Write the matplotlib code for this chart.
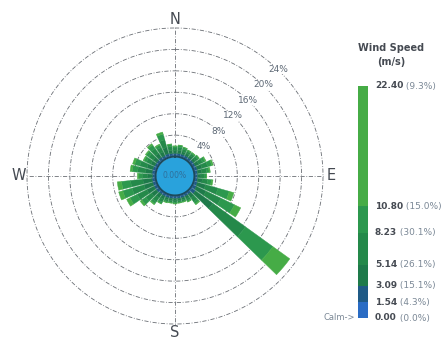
import numpy as np
import matplotlib
matplotlib.use("Agg")
import matplotlib.pyplot as plt

# Direction bins (degrees, clockwise from north)
directions = np.arange(0, 360, 10)

# Frequency (%) per direction for each wind-speed class
c1 = [0.2, 0.2, 0.2, 0.2, 0.2, 0.2, 0.2, 0.2, 0.2, 0.2, 0.2, 0.2,
      0.2, 0.3, 0.2, 0.2, 0.2, 0.2, 0.2, 0.2, 0.2, 0.2, 0.2, 0.2,
      0.2, 0.2, 0.2, 0.2, 0.2, 0.2, 0.2, 0.2, 0.2, 0.2, 0.2, 0.2]
c2 = [0.4, 0.4, 0.4, 0.4, 0.4, 0.4, 0.4, 0.5, 0.4, 0.4, 0.4, 0.5,
      0.6, 0.8, 0.4, 0.4, 0.4, 0.4, 0.4, 0.4, 0.4, 0.4, 0.4, 0.5,
      0.5, 0.5, 0.5, 0.4, 0.5, 0.5, 0.4, 0.4, 0.5, 0.4, 0.5, 0.4]
c3 = [0.5, 0.6, 0.5, 0.5, 0.5, 0.5, 0.7, 0.9, 0.8, 0.6, 0.9, 1.6,
      2.0, 4.0, 0.8, 0.5, 0.4, 0.4, 0.4, 0.4, 0.4, 0.6, 0.8, 1.1,
      1.5, 1.7, 1.7, 0.9, 1.2, 1.1, 0.8, 0.8, 0.9, 0.8, 1.2, 0.6]
c4 = [0.5, 0.6, 0.5, 0.4, 0.4, 0.5, 0.8, 1.1, 0.9, 0.6, 1.0, 2.4,
      3.1, 7.5, 0.9, 0.4, 0.3, 0.3, 0.3, 0.3, 0.3, 0.6, 0.9, 1.3,
      2.0, 2.3, 2.3, 1.0, 1.5, 1.4, 0.9, 1.0, 1.1, 0.9, 1.5, 0.7]
c5 = [0.3, 0.3, 0.3, 0.2, 0.2, 0.3, 0.5, 0.8, 0.5, 0.4, 0.7, 2.2,
      2.8, 6.3, 0.5, 0.2, 0.1, 0.1, 0.2, 0.1, 0.2, 0.3, 0.5, 0.9,
      1.5, 1.8, 1.7, 0.6, 1.0, 1.0, 0.5, 0.6, 0.8, 0.5, 1.1, 0.4]
c6 = [0.1, 0.1, 0.1, 0.1, 0.1, 0.1, 0.2, 0.3, 0.2, 0.1, 0.3, 0.9,
      1.3, 3.9, 0.2, 0.1, 0.1, 0.1, 0.1, 0.1, 0.1, 0.1, 0.2, 0.4,
      0.7, 0.8, 0.8, 0.3, 0.4, 0.4, 0.2, 0.2, 0.3, 0.2, 0.4, 0.1]
speed_classes = [c1, c2, c3, c4, c5, c6]

# Speed class boundaries (m/s) and their share of all records
speed_bounds = [0.00, 1.54, 3.09, 5.14, 8.23, 10.80, 22.40]
bound_labels = ["0.00", "1.54", "3.09", "5.14", "8.23", "10.80", "22.40"]
bound_pcts = ["(0.0%)", "(4.3%)", "(15.1%)", "(26.1%)", "(30.1%)", "(15.0%)", "(9.3%)"]
calm_label = "0.00%"
ring_values = [4, 8, 12, 16, 20, 24]

class_colors = ["#2a6cc4", "#1f5a86", "#1e7a4a", "#24894a", "#2c984e", "#46ac46"]
calm_color = "#29a2dc"
grid_color = "#6a6e74"
text_dark = "#454a52"
text_soft = "#7b8896"

fig = plt.figure(figsize=(4.45, 3.39), dpi=100)
W, H = 445, 339

# Polar axes: centre at (175, 176) px, 24% ring at 148 px
r_calm = 3.63
r_top = 28.0
rad_px = 150
cx, cy = 175, 176
ax = fig.add_axes([(cx - rad_px) / W, (H - cy - rad_px) / H,
                   2 * rad_px / W, 2 * rad_px / H], projection="polar")
ax.set_theta_zero_location("N")
ax.set_theta_direction(-1)
ax.set_ylim(0, r_top)
ax.set_xticks([])
ax.set_yticks([])
ax.grid(False)
ax.spines["polar"].set_visible(False)
ax.patch.set_alpha(0)

grid_ls = (0, (5, 2, 1, 2))
tt = np.linspace(0, 2 * np.pi, 361)
for rv in ring_values:
    ax.plot(tt, np.full_like(tt, r_calm + rv), color=grid_color, lw=0.6,
            ls=grid_ls, zorder=1)
for ang in [0, 90, 180, 270]:
    ax.plot([np.deg2rad(ang)] * 2, [0, r_calm + ring_values[-1]],
            color=grid_color, lw=0.6, ls=grid_ls, zorder=1)

# Stacked petals
theta = np.deg2rad(directions)
bottom = np.full(len(directions), r_calm)
for vals, col in zip(speed_classes, class_colors):
    vals = np.asarray(vals)
    ax.bar(theta, vals, width=np.deg2rad(8.4), bottom=bottom, color=col,
           edgecolor=col, linewidth=0.3, zorder=3)
    bottom = bottom + vals

# Calm circle
ax.fill_between(tt, 0, r_calm, color=calm_color, zorder=4, lw=0)
ax.plot(tt, np.full_like(tt, r_calm), color="#1d4a5c", lw=1.4, zorder=4)
ax.text(0, 0, calm_label, ha="center", va="center", fontsize=5.5,
        color="#2f6f9a", zorder=5)

# Ring labels along the NE diagonal
for rv in ring_values:
    ax.text(np.deg2rad(44), r_calm + rv, f"{rv}%", ha="center", va="center",
            fontsize=6.5, color="#5d6875", zorder=2,
            bbox=dict(boxstyle="square,pad=0.05", fc="white", ec="none"))

# Compass letters
for ang, lab in [(0, "N"), (90, "E"), (180, "S"), (270, "W")]:
    ax.text(np.deg2rad(ang), r_top + 1.2, lab, ha="center", va="center",
            fontsize=10.5, color=text_dark, clip_on=False)

# Speed legend bar
cb_left, cb_right, cb_top, cb_bot = 358, 368, 86, 318
cax = fig.add_axes([cb_left / W, (H - cb_bot) / H,
                    (cb_right - cb_left) / W, (cb_bot - cb_top) / H])
for lo, hi, col in zip(speed_bounds[:-1], speed_bounds[1:], class_colors):
    cax.bar(0, hi - lo, bottom=lo, width=1, color=col, linewidth=0)
cax.set_xlim(-0.5, 0.5)
cax.set_ylim(speed_bounds[0], speed_bounds[-1])
cax.axis("off")

for val, lab, pct in zip(speed_bounds, bound_labels, bound_pcts):
    t = cax.annotate(lab, xy=(1, val), xycoords=("axes fraction", "data"),
                     xytext=(5, 0), textcoords="offset points",
                     ha="left", va="center", fontsize=6.5, color=text_dark,
                     fontweight="bold")
    cax.annotate(" " + pct, xy=(1, 0.5), xycoords=t, ha="left", va="center",
                 fontsize=6.5, color=text_soft)

cax.annotate("Calm->", xy=(0, 0), xycoords="axes fraction",
             xytext=(-2, 0), textcoords="offset points",
             ha="right", va="center", fontsize=6, color=text_soft)

fig.text(391 / W, 1 - 48 / H, "Wind Speed", ha="center", va="center",
         fontsize=7, fontweight="bold", color=text_dark)
fig.text(391 / W, 1 - 62 / H, "(m/s)", ha="center", va="center",
         fontsize=7, fontweight="bold", color=text_dark)

fig.savefig("out.png", dpi=100, facecolor="white")
